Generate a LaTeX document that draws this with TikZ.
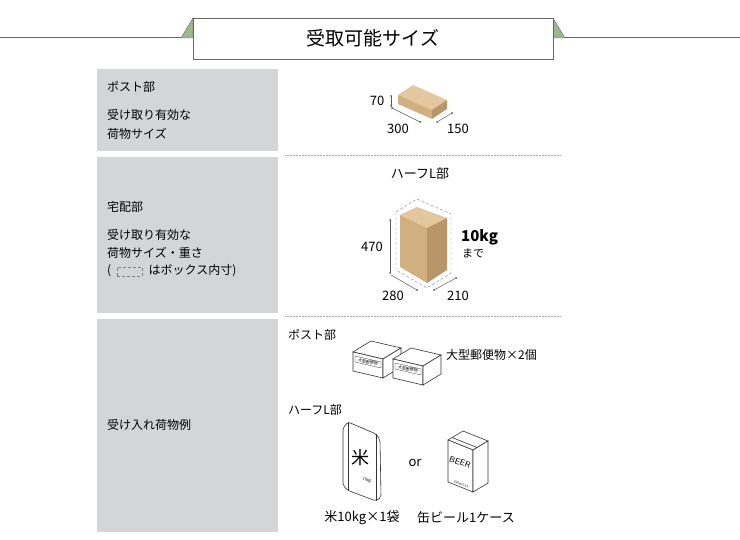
\documentclass[tikz,border=0pt]{standalone}
\usepackage{fontspec}
\setmainfont{Noto Sans CJK JP}
\usetikzlibrary{positioning}
\definecolor{cellgray}{HTML}{D4D5D7}
\definecolor{hdgreen}{HTML}{9DB88F}
\definecolor{boxtop}{HTML}{E2C79F}
\definecolor{boxfront}{HTML}{D2AF80}
\definecolor{boxside}{HTML}{B9956A}
\tikzset{
  cell/.style={fill=cellgray, draw=none},
  lbl/.style={anchor=west, font=\fontsize{12}{14}\selectfont, inner sep=0pt},
  num/.style={font=\fontsize{13}{15}\selectfont, inner sep=1pt},
  dim/.style={line width=0.5pt, gray!70!black},
  ink/.style={line width=0.6pt, black!80},
  sep/.style={densely dotted, line width=0.5pt, gray!70}
}
\begin{document}
\begin{tikzpicture}[x=1pt,y=-1pt]
		\useasboundingbox (0,0) rectangle (740,540);

		% header
		\draw[line width=1pt, black!60] (0,38) -- (740,38);
		\filldraw[fill=hdgreen, draw=black!60] (181,38) -- (193,18) -- (193,38) -- cycle;
		\filldraw[fill=hdgreen, draw=black!60] (565,38) -- (553,18) -- (553,38) -- cycle;
		\node[draw=black!60, fill=white, minimum width=360pt, minimum height=41pt, inner sep=0pt,
		      font=\fontsize{19}{22}\selectfont] (title) at (373,38.5) {受取可能サイズ};

		% left cells
		\fill[cell] (97,69) rectangle (278,151);
		\fill[cell] (97,157) rectangle (278,313);
		\fill[cell] (97,319) rectangle (278,532);
		\draw[sep] (285,155) -- (560,155);
		\draw[sep] (285,316) -- (560,316);

		\node[lbl] (postA) at (107,87) {ポスト部};
		\node[lbl] (postB) at (107,115) {受け取り有効な};
		\node[lbl] (postC) at (107,134) {荷物サイズ};
		\node[lbl] (takuA) at (107,207) {宅配部};
		\node[lbl] (takuB) at (107,235) {受け取り有効な};
		\node[lbl] (takuC) at (107,253) {荷物サイズ・重さ};
		\node[lbl] (takuD) at (107,271) {(\hspace{6pt}\tikz[baseline=-4pt,y=1pt]\draw[densely dashed,gray,line width=0.4pt] (0,-5) rectangle (25,4);\hspace{6pt}はボックス内寸)};
		\node[lbl] (rei) at (107,425) {受け入れ荷物例};

		% post box
		\filldraw[fill=boxtop, draw=none] (398,95) -- (413,85) -- (447,100) -- (432,110) -- cycle;
		\filldraw[fill=boxfront, draw=none] (398,95) -- (432,110) -- (432,119) -- (398,104) -- cycle;
		\filldraw[fill=boxside, draw=none] (432,110) -- (447,100) -- (447,109) -- (432,119) -- cycle;
		\draw[dim] (391,96) -- (391,106);
		\draw[dim] (392,108) -- (420,122);
		\draw[dim] (437,122) -- (452,113);
		\foreach \p in {(391,96),(391,106),(392,108),(420,122),(437,122),(452,113)}
		  \fill[gray!70!black] \p circle (1pt);
		\node[num] (p70) at (377,101) {70};
		\node[num] (p300) at (398,129) {300};
		\node[num] (p150) at (458,129) {150};

		% half L box
		\node[num] (halfL) at (420,174) {ハーフL部};
		\draw[densely dashed, gray, line width=0.4pt] (396,212) -- (417,199) -- (451,214) -- (451,273) -- (427,288) -- (396,270) -- cycle;
		\filldraw[fill=boxtop, draw=none] (400,215) -- (417,207) -- (447,218) -- (427,228) -- cycle;
		\filldraw[fill=boxfront, draw=none] (400,215) -- (427,228) -- (427,283) -- (400,267) -- cycle;
		\filldraw[fill=boxside, draw=none] (427,228) -- (447,218) -- (447,270) -- (427,283) -- cycle;
		\draw[dim] (390,220) -- (390,273);
		\draw[dim] (391,275) -- (417,290);
		\draw[dim] (434,290) -- (456,278);
		\foreach \p in {(390,220),(390,273),(417,290),(434,290),(456,278)}
		  \fill[gray!70!black] \p circle (1pt);
		\node[num] (h470) at (372,247) {470};
		\node[num] (h280) at (393,296) {280};
		\node[num] (h210) at (458,296) {210};
		\node[anchor=west, inner sep=0pt, font=\fontsize{15}{17}\selectfont\bfseries] (kg) at (461,237) {10kg};
		\node[anchor=west, inner sep=0pt, font=\fontsize{11}{13}\selectfont] (made) at (462,253) {まで};

		% examples
		\node[lbl] (expost) at (288,335) {ポスト部};
		\node[lbl] (exhalf) at (288,410) {ハーフL部};
		\foreach \x/\y in {353/352,393/359}{
		  \begin{scope}[shift={(\x,\y)}]
		    \draw[ink, fill=white] (0,0) -- (18,-11) -- (48,-4) -- (30,7) -- cycle;
		    \draw[ink, fill=white] (0,0) -- (30,7) -- (30,26) -- (0,19) -- cycle;
		    \draw[ink, fill=white] (30,7) -- (48,-4) -- (48,15) -- (30,26) -- cycle;
		    \draw[ink, line width=0.3pt] (2,4) -- (28,10) -- (28,16) -- (2,10) -- cycle;
		    \node[font=\fontsize{4}{5}\selectfont, rotate=-12, inner sep=0pt] at (15,10) {大型郵便物};
		  \end{scope}}
		\node[lbl] (parcel) at (446,355) {大型郵便物×2個};

		% rice bag
		\draw[ink, fill=white, rounded corners=2pt] (343,428) -- (348,422) -- (376,434) -- (380,440) -- (381,497) -- (376,501) -- (347,490) -- (343,485) -- cycle;
		\draw[ink] (348,422) -- (348,490);
		\draw[ink] (376,434) -- (376,501);
		\node[font=\fontsize{18}{20}\selectfont, inner sep=0pt] (kome) at (360,458) {米};
		\node[font=\fontsize{4}{5}\selectfont, rotate=-20, inner sep=0pt] (kg10) at (367,480) {10kg};
		\node[num] (or) at (415,463) {or};

		% beer case
		\draw[ink, fill=white] (448,440) -- (463,431) -- (488,441) -- (473,450) -- cycle;
		\draw[ink, fill=white] (448,440) -- (473,450) -- (473,492) -- (448,482) -- cycle;
		\draw[ink, fill=white] (473,450) -- (488,441) -- (488,483) -- (473,492) -- cycle;
		\draw[ink] (452,437.5) -- (477,447.5);
		\node[font=\fontsize{8.5}{10}\selectfont\sffamily, rotate=-20, inner sep=0pt] (beer) at (460,462) {BEER};
		\node[font=\fontsize{3}{4}\selectfont, rotate=-20, inner sep=0pt] (cans) at (461,484) {350ml×24};

		\node[num] (cap1) at (362,518) {米10kg×1袋};
		\node[num] (cap2) at (466,518) {缶ビール1ケース};
	  \end{tikzpicture}
\end{document}
